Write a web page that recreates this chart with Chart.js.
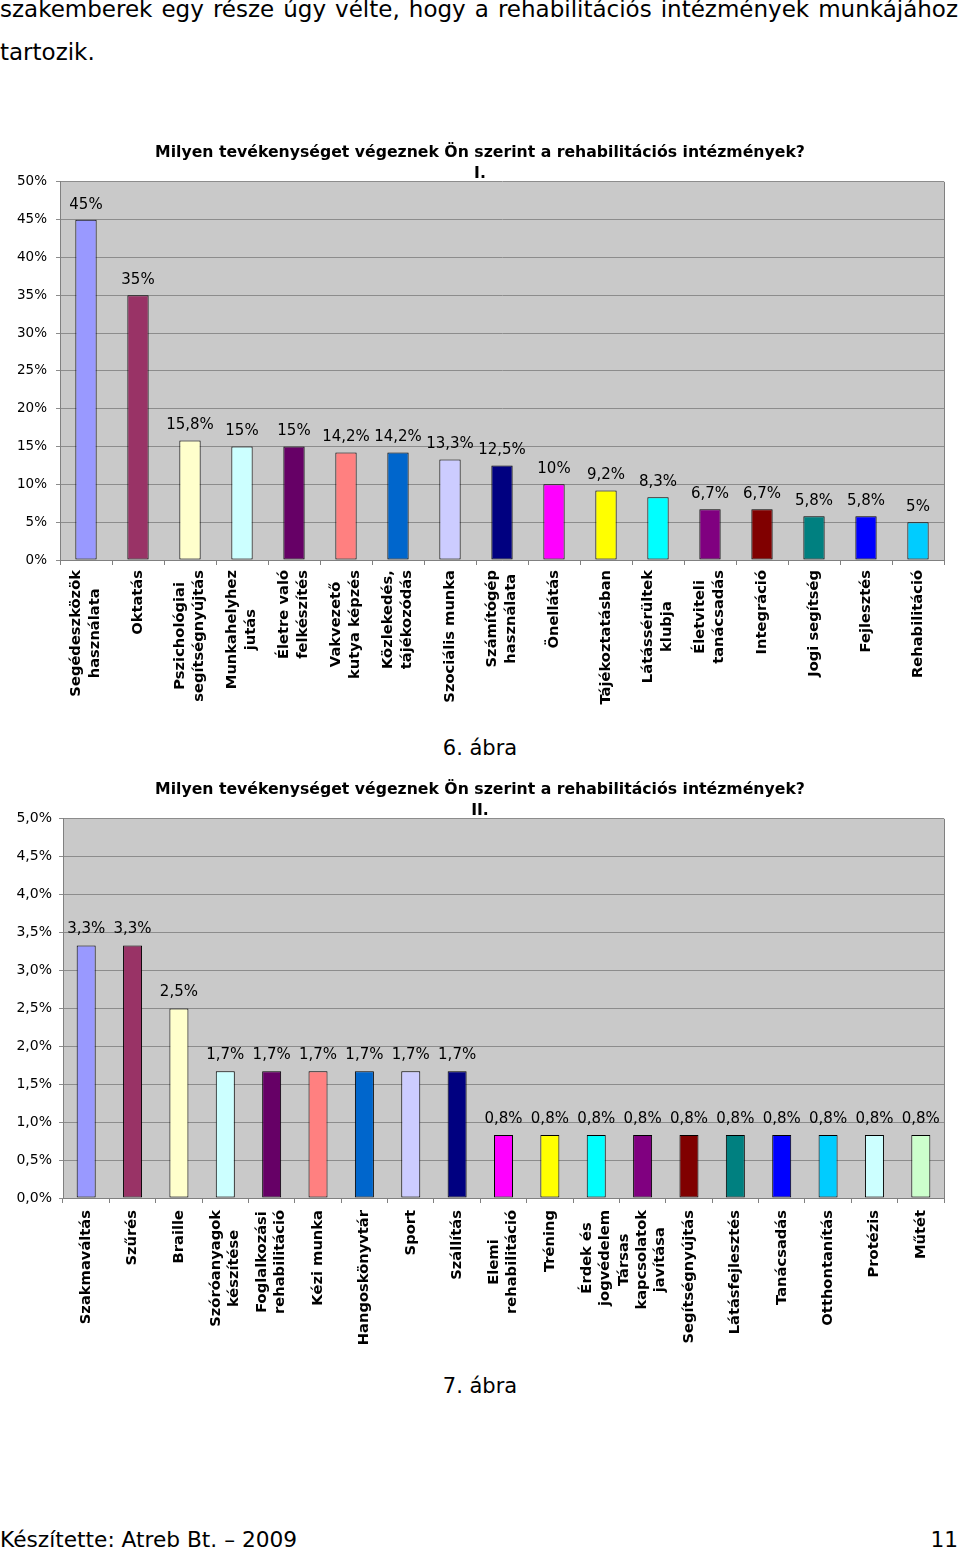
<!DOCTYPE html>
<html lang="hu">
<head>
<meta charset="utf-8">
<title>Rehabilitációs intézmények</title>
<script src="https://cdn.jsdelivr.net/npm/chart.js@4.4.1/dist/chart.umd.min.js"></script>
<style>
  html, body { margin: 0; padding: 0; background: #fff; }
  body { width: 960px; height: 1550px; position: relative; overflow: hidden; font-family: "DejaVu Sans", Verdana, sans-serif; color: #000; }
  .txt { position: absolute; white-space: nowrap; font-size: 21.7px; line-height: 43px; }
  #line1, #line2 { font-size: 23px; }
  #chart1 { position: absolute; left: 0; top: 130px; }
  #chart2 { position: absolute; left: 0; top: 767px; }
  .caption { position: absolute; left: 0; width: 960px; text-align: center; font-size: 21px; line-height: 30px; }
</style>
</head>
<body>
<span class="txt" id="line1" style="left:0; top:-12.5px;">szakemberek egy része úgy vélte, hogy a rehabilitációs intézmények munkájához</span>
<span class="txt" id="line2" style="left:0; top:30.5px;">tartozik.</span>

<canvas id="chart1" width="960" height="590"></canvas>
<div class="caption" style="top:733px;">6. ábra</div>

<canvas id="chart2" width="960" height="593"></canvas>
<div class="caption" style="top:1371px;">7. ábra</div>

<span class="txt" style="left:0; top:1518px;">Készítette: Atreb Bt. – 2009</span>
<span class="txt" style="right:2px; top:1518px;">11</span>

<script>
// I. ábra adatai
const labels1 = [
    ['Segédeszközök', 'használata'], 'Oktatás', ['Pszichológiai', 'segítségnyújtás'],
    ['Munkahelyhez', 'jutás'], ['Életre való', 'felkészítés'], ['Vakvezető', 'kutya képzés'],
    ['Közlekedés,', 'tájékozódás'], 'Szociális munka', ['Számítógép', 'használata'],
    'Önellátás', 'Tájékoztatásban', ['Látássérültek', 'klubja'], ['Életviteli', 'tanácsadás'],
    'Integráció', 'Jogi segítség', 'Fejlesztés', 'Rehabilitáció'
];
const values1 = [45, 35, 15.8, 15, 15, 14.2, 14.2, 13.3, 12.5, 10, 9.2, 8.3, 6.7, 6.7, 5.8, 5.8, 5];
const colors1 = [
    '#9999FF', '#993366', '#FFFFCC', '#CCFFFF', '#660066', '#FF8080', '#0066CC', '#CCCCFF',
    '#000080', '#FF00FF', '#FFFF00', '#00FFFF', '#800080', '#800000', '#008080', '#0000FF', '#00CCFF'
];
const title1 = ['Milyen tevékenységet végeznek Ön szerint a rehabilitációs intézmények?', 'I.'];

// II. ábra adatai
const labels2 = [
    'Szakmaváltás', 'Szűrés', 'Braille', ['Szóróanyagok', 'készítése'],
    ['Foglalkozási', 'rehabilitáció'], 'Kézi munka', 'Hangoskönyvtár', 'Sport', 'Szállítás',
    ['Elemi', 'rehabilitáció'], 'Tréning', ['Érdek és', 'jogvédelem'],
    ['Társas', 'kapcsolatok', 'javítása'], 'Segítségnyújtás', 'Látásfejlesztés', 'Tanácsadás',
    'Otthontanítás', 'Protézis', 'Műtét'
];
const values2 = [3.33, 3.33, 2.5, 1.67, 1.67, 1.67, 1.67, 1.67, 1.67, 0.83, 0.83, 0.83, 0.83, 0.83, 0.83, 0.83, 0.83, 0.83, 0.83];
const colors2 = [
    '#9999FF', '#993366', '#FFFFCC', '#CCFFFF', '#660066', '#FF8080', '#0066CC', '#CCCCFF',
    '#000080', '#FF00FF', '#FFFF00', '#00FFFF', '#800080', '#800000', '#008080', '#0000FF',
    '#00CCFF', '#CCFFFF', '#CCFFCC'
];
const title2 = ['Milyen tevékenységet végeznek Ön szerint a rehabilitációs intézmények?', 'II.'];

const FONT = '"DejaVu Sans", Verdana, sans-serif';
Chart.defaults.font.family = FONT;
Chart.defaults.color = '#000';

const plotBg = {
    id: 'plotBg',
    beforeDraw: function (chart) {
        const a = chart.chartArea, ctx = chart.ctx;
        ctx.save();
        ctx.fillStyle = '#c9c9c9';
        ctx.fillRect(a.left, a.top, a.right - a.left, a.bottom - a.top);
        ctx.restore();
    },
    beforeDatasetsDraw: function (chart) {
        const a = chart.chartArea, ctx = chart.ctx;
        ctx.save();
        ctx.strokeStyle = '#808080';
        ctx.lineWidth = 1;
        ctx.beginPath();
        ctx.moveTo(a.right + 0.5, a.top);
        ctx.lineTo(a.right + 0.5, a.bottom);
        ctx.stroke();
        ctx.restore();
    }
};

const barLabels = {
    id: 'barLabels',
    afterDatasetsDraw: function (chart, args, opts) {
        const ctx = chart.ctx;
        const meta = chart.getDatasetMeta(0);
        const data = chart.data.datasets[0].data;
        ctx.save();
        ctx.font = '15px ' + FONT;
        ctx.fillStyle = '#000';
        ctx.textAlign = 'center';
        ctx.textBaseline = 'middle';
        meta.data.forEach(function (bar, i) {
            ctx.fillText(opts.format(data[i]), bar.x, bar.y - opts.offset);
        });
        ctx.restore();
    }
};

// forgatott, soronként középre igazított kategóriafeliratok
const xLabels = {
    id: 'xLabels',
    afterDraw: function (chart, args, opts) {
        const ctx = chart.ctx, x = chart.scales.x;
        ctx.save();
        ctx.font = 'bold 14.7px ' + FONT;
        ctx.fillStyle = '#000';
        ctx.textAlign = 'center';
        ctx.textBaseline = 'middle';
        chart.data.labels.forEach(function (lab, i) {
            const lines = Array.isArray(lab) ? lab : [lab];
            const w = Math.max.apply(null, lines.map(function (l) { return ctx.measureText(l).width; }));
            ctx.save();
            ctx.translate(x.getPixelForTick(i), x.top + opts.top + w / 2);
            ctx.rotate(-Math.PI / 2);
            lines.forEach(function (l, j) {
                ctx.fillText(l, 0, (j - (lines.length - 1) / 2) * opts.lineHeight);
            });
            ctx.restore();
        });
        ctx.restore();
    }
};

function makeChart(id, labels, values, colors, title, cfg) {
    const ctx = document.getElementById(id).getContext('2d');
    return new Chart(ctx, {
        type: 'bar',
        data: {
            labels: labels,
            datasets: [{
                data: values,
                backgroundColor: colors,
                borderColor: '#000',
                borderWidth: 1,
                borderSkipped: false,
                categoryPercentage: 1,
                barPercentage: 0.41
            }]
        },
        options: {
            responsive: false,
            animation: false,
            events: [],
            layout: { padding: { left: 16, right: 16, top: 0, bottom: 0 } },
            plugins: {
                legend: { display: false },
                tooltip: { enabled: false },
                title: {
                    display: true,
                    text: title,
                    color: '#000',
                    font: { size: 15.7, weight: 'bold', lineHeight: 1.3 },
                    padding: { top: 13, bottom: -2 }
                },
                barLabels: { format: cfg.format, offset: cfg.labelOffset },
                xLabels: { top: cfg.xTop, lineHeight: cfg.lineHeight }
            },
            scales: {
                x: {
                    ticks: { display: false },
                    grid: { display: true, drawOnChartArea: false, drawTicks: true, tickLength: 5, color: '#808080', offset: true },
                    border: { display: true, color: '#808080', width: 1 },
                    afterFit: function (scale) { scale.height = cfg.xHeight; }
                },
                y: {
                    min: 0,
                    max: cfg.max,
                    ticks: {
                        stepSize: cfg.step,
                        padding: cfg.yPad,
                        font: { size: cfg.yFont },
                        color: '#000',
                        callback: cfg.tick
                    },
                    grid: { color: '#8c8c8c', tickLength: 4, drawTicks: true },
                    border: { display: true, color: '#808080', width: 1 },
                    afterFit: function (scale) { scale.width = cfg.yWidth; }
                }
            }
        },
        plugins: [plotBg, barLabels, xLabels]
    });
}

makeChart('chart1', labels1, values1, colors1, title1, {
    max: 50, step: 5, yPad: 9, yFont: 13.5, yWidth: 44, xHeight: 160,
    xTop: 10, lineHeight: 19, labelOffset: 15,
    tick: function (v) { return v + '%'; },
    format: function (v) { return String(Math.round(v * 10) / 10).replace('.', ',') + '%'; }
});

makeChart('chart2', labels2, values2, colors2, title2, {
    max: 5, step: 0.5, yPad: 7, yFont: 14, yWidth: 47, xHeight: 162,
    xTop: 12, lineHeight: 18, labelOffset: 16,
    tick: function (v) { return v.toFixed(1).replace('.', ',') + '%'; },
    format: function (v) { return v.toFixed(1).replace('.', ',') + '%'; }
});

// az első sor sorkizárt, a jobb szélig ér
const line1 = document.getElementById('line1');
const gap = 958 - line1.getBoundingClientRect().width;
line1.style.wordSpacing = (gap / 9) + 'px';
</script>
</body>
</html>
